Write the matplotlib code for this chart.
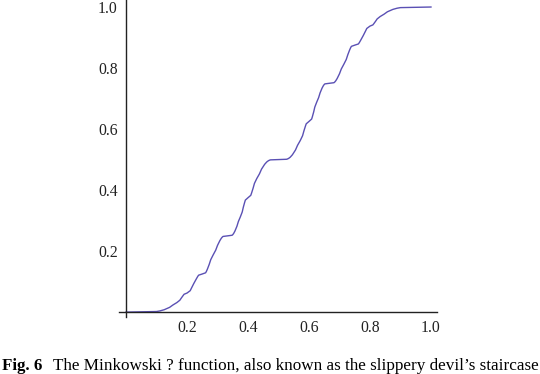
import matplotlib
matplotlib.use('Agg')
import matplotlib.pyplot as plt

# Minkowski ? function at Stern-Brocot rationals
x_vals = [0.0, 0.1, 0.1111, 0.125, 0.1429, 0.1538, 0.1667, 0.1765, 0.1818, 0.1875,
          0.1905, 0.2, 0.2105, 0.2143, 0.2222, 0.2308, 0.2353, 0.2381, 0.25, 0.2609,
          0.2632, 0.2667, 0.2727, 0.2778, 0.2857, 0.2941, 0.3, 0.3077, 0.3125, 0.3158,
          0.3182, 0.3333, 0.3478, 0.35, 0.3529, 0.3571, 0.3636, 0.3684, 0.375, 0.381,
          0.3846, 0.3889, 0.3913, 0.4, 0.4091, 0.4118, 0.4167, 0.4211, 0.4286, 0.4375,
          0.4444, 0.4545, 0.4615, 0.4667, 0.4706, 0.4737, 0.5,
          0.5263, 0.5294, 0.5333, 0.5385, 0.5455, 0.5556, 0.5625, 0.5714, 0.5789, 0.5833,
          0.5882, 0.5909, 0.6, 0.6087, 0.6111, 0.6154, 0.619, 0.625, 0.6316, 0.6364,
          0.6429, 0.6471, 0.65, 0.6522, 0.6667, 0.6818, 0.6842, 0.6875, 0.6923, 0.7,
          0.7059, 0.7143, 0.7222, 0.7273, 0.7333, 0.7368, 0.7391, 0.75, 0.7619, 0.7647,
          0.7692, 0.7778, 0.7857, 0.7895, 0.8, 0.8095, 0.8125, 0.8182, 0.8235, 0.8333,
          0.8462, 0.8571, 0.875, 0.8889, 0.9, 1.0]
y_vals = [0.0, 0.00195, 0.00391, 0.00781, 0.01563, 0.02344, 0.03125, 0.03906, 0.04688, 0.05469,
          0.05859, 0.0625, 0.07031, 0.07813, 0.09375, 0.10938, 0.11719, 0.12109, 0.125, 0.12891,
          0.13281, 0.14063, 0.15625, 0.17188, 0.1875, 0.20313, 0.21875, 0.23438, 0.24219, 0.24609,
          0.24805, 0.25, 0.25195, 0.25391, 0.25781, 0.26563, 0.28125, 0.29688, 0.3125, 0.32813,
          0.34375, 0.35938, 0.36719, 0.375, 0.38281, 0.39063, 0.40625, 0.42188, 0.4375, 0.45313,
          0.46875, 0.48438, 0.49219, 0.49609, 0.49805, 0.49902, 0.5,
          0.50098, 0.50195, 0.50391, 0.50781, 0.51563, 0.53125, 0.54688, 0.5625, 0.57813, 0.59375,
          0.60938, 0.61719, 0.625, 0.63281, 0.64063, 0.65625, 0.67188, 0.6875, 0.70313, 0.71875,
          0.73438, 0.74219, 0.74609, 0.74805, 0.75, 0.75195, 0.75391, 0.75781, 0.76563, 0.78125,
          0.79688, 0.8125, 0.82813, 0.84375, 0.85938, 0.86719, 0.87109, 0.875, 0.87891, 0.88281,
          0.89063, 0.90625, 0.92188, 0.92969, 0.9375, 0.94141, 0.94531, 0.95313, 0.96094, 0.96875,
          0.97656, 0.98438, 0.99219, 0.99609, 0.99805, 1.0]

tick_vals = [0.2, 0.4, 0.6, 0.8, 1.0]
tick_labels = ['0.2', '0.4', '0.6', '0.8', '1.0']

plt.rcParams['font.family'] = ['Liberation Serif', 'DejaVu Serif']

fig = plt.figure(figsize=(5.4, 3.74), dpi=100)
ax = fig.add_axes([0.2204, 0.1524, 0.589, 0.8476])

ax.plot(x_vals, y_vals, color='#5a50b4', linewidth=1.0)

ax.set_xlim(-0.023, 1.02)
ax.set_ylim(-0.016, 1.023)

# axes crossing at the origin
ax.spines['left'].set_position(('data', 0))
ax.spines['bottom'].set_position(('data', 0))
ax.spines['top'].set_visible(False)
ax.spines['right'].set_visible(False)
for s in ('left', 'bottom'):
    ax.spines[s].set_linewidth(1.0)
    ax.spines[s].set_color('#222222')

ax.set_xticks(tick_vals)
ax.set_xticklabels(tick_labels)
ax.set_yticks(tick_vals)
ax.set_yticklabels(tick_labels)
ax.tick_params(axis='both', length=0, labelsize=11.3, colors='#222222')
ax.tick_params(axis='x', pad=6)
ax.tick_params(axis='y', pad=6)

# caption
cap_y = 0.0107
fig.text(0.004, cap_y, 'Fig. 6', fontsize=12.2, fontweight='bold', va='baseline', ha='left')
fig.text(0.098, cap_y, 'The Minkowski ? function, also known as the slippery devil\u2019s staircase',
         fontsize=12.3, va='baseline', ha='left')

fig.savefig('out.png', dpi=100)
